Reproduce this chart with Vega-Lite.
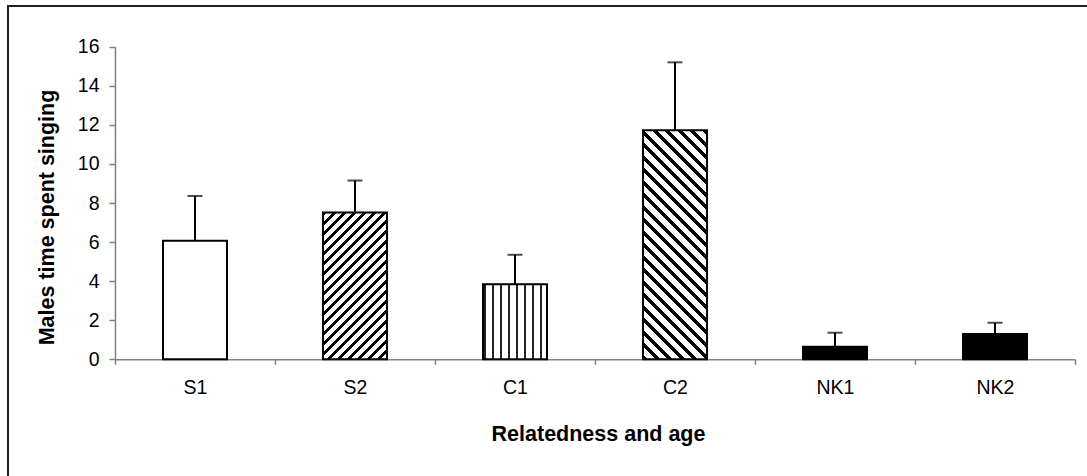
{
  "$schema": "https://vega.github.io/schema/vega-lite/v6.json",
  "autosize": {"type": "none"},
  "padding": {"left": 8, "top": 6, "right": 0, "bottom": 0},
  "width": 1081,
  "height": 471,
  "background": "white",
  "config": {
    "view": {"stroke": "#222", "strokeWidth": 2},
    "font": "Liberation Sans"
  },
  "data": {
    "values": [
      {"group": "S1", "mean": 6.07, "upper": 8.36},
      {"group": "S2", "mean": 7.52, "upper": 9.15},
      {"group": "C1", "mean": 3.84, "upper": 5.35},
      {"group": "C2", "mean": 11.72, "upper": 15.2},
      {"group": "NK1", "mean": 0.64, "upper": 1.36},
      {"group": "NK2", "mean": 1.29, "upper": 1.87}
    ]
  },
  "encoding": {
    "x": {
      "field": "group", "type": "nominal", "sort": null,
      "scale": {"type": "band", "domain": ["S1", "S2", "C1", "C2", "NK1", "NK2"], "range": [107, 1067], "paddingInner": 0, "paddingOuter": 0},
      "axis": {
        "title": "Relatedness and age",
        "offset": -117.7,
        "labelAngle": 0,
        "labelFont": "Liberation Sans", "labelFontSize": 19.5, "labelColor": "#000",
        "labelPadding": 14,
        "tickBand": "extent",
        "tickSize": 5, "tickColor": "#808080", "tickWidth": 1.5,
        "domainColor": "#808080", "domainWidth": 1.5,
        "titleFont": "Liberation Sans", "titleFontSize": 21.5, "titleFontWeight": "bold", "titleColor": "#000",
        "titleX": 590, "titleY": 80.7, "titleBaseline": "alphabetic", "titleAlign": "center",
        "grid": false
      }
    },
    "y": {
      "field": "mean", "type": "quantitative",
      "scale": {"domain": [0, 16], "range": [353.3, 40.7], "nice": false},
      "axis": {
        "title": "Males time spent singing",
        "offset": -107,
        "values": [0, 2, 4, 6, 8, 10, 12, 14, 16],
        "labelFont": "Liberation Sans", "labelFontSize": 19.5, "labelColor": "#000",
        "labelPadding": 10,
        "tickSize": 6, "tickColor": "#808080", "tickWidth": 1.5,
        "domainColor": "#808080", "domainWidth": 1.5,
        "titleFont": "Liberation Sans", "titleFontSize": 21.5, "titleFontWeight": "bold", "titleColor": "#000",
        "titleX": -61.7, "titleY": 211, "titleBaseline": "alphabetic", "titleAlign": "center", "titleAngle": 270,
        "grid": false
      }
    }
  },
  "layer": [
    {
      "transform": [{"filter": {"field": "group", "oneOf": ["S1", "NK1", "NK2"]}}],
      "mark": {"type": "bar", "width": {"band": 0.4}, "stroke": "#000", "strokeWidth": 2},
      "encoding": {
        "fill": {"field": "group", "type": "nominal", "scale": {"domain": ["S1", "NK1", "NK2"], "range": ["#ffffff", "#000000", "#000000"]}, "legend": null}
      }
    },
    {
      "transform": [{"filter": {"field": "group", "equal": "S2"}}],
      "mark": {
        "type": "bar", "width": {"band": 0.4}, "stroke": "#000", "strokeWidth": 2,
        "fill": {
          "gradient": "linear", "x1": 0, "y1": 0, "x2": 0.5254, "y2": 1.2067,
          "stops": [
            {"offset": 0, "color": "#000"}, {"offset": 0.019, "color": "#000"}, {"offset": 0.019, "color": "#fff"},
            {"offset": 0.0474, "color": "#fff"}, {"offset": 0.0474, "color": "#000"}, {"offset": 0.0664, "color": "#000"}, {"offset": 0.0664, "color": "#fff"},
            {"offset": 0.0948, "color": "#fff"}, {"offset": 0.0948, "color": "#000"}, {"offset": 0.1138, "color": "#000"}, {"offset": 0.1138, "color": "#fff"},
            {"offset": 0.1422, "color": "#fff"}, {"offset": 0.1422, "color": "#000"}, {"offset": 0.1612, "color": "#000"}, {"offset": 0.1612, "color": "#fff"},
            {"offset": 0.1896, "color": "#fff"}, {"offset": 0.1896, "color": "#000"}, {"offset": 0.2086, "color": "#000"}, {"offset": 0.2086, "color": "#fff"},
            {"offset": 0.2370, "color": "#fff"}, {"offset": 0.2370, "color": "#000"}, {"offset": 0.2560, "color": "#000"}, {"offset": 0.2560, "color": "#fff"},
            {"offset": 0.2844, "color": "#fff"}, {"offset": 0.2844, "color": "#000"}, {"offset": 0.3034, "color": "#000"}, {"offset": 0.3034, "color": "#fff"},
            {"offset": 0.3318, "color": "#fff"}, {"offset": 0.3318, "color": "#000"}, {"offset": 0.3508, "color": "#000"}, {"offset": 0.3508, "color": "#fff"},
            {"offset": 0.3791, "color": "#fff"}, {"offset": 0.3791, "color": "#000"}, {"offset": 0.3981, "color": "#000"}, {"offset": 0.3981, "color": "#fff"},
            {"offset": 0.4265, "color": "#fff"}, {"offset": 0.4265, "color": "#000"}, {"offset": 0.4455, "color": "#000"}, {"offset": 0.4455, "color": "#fff"},
            {"offset": 0.4739, "color": "#fff"}, {"offset": 0.4739, "color": "#000"}, {"offset": 0.4929, "color": "#000"}, {"offset": 0.4929, "color": "#fff"},
            {"offset": 0.5213, "color": "#fff"}, {"offset": 0.5213, "color": "#000"}, {"offset": 0.5403, "color": "#000"}, {"offset": 0.5403, "color": "#fff"},
            {"offset": 0.5687, "color": "#fff"}, {"offset": 0.5687, "color": "#000"}, {"offset": 0.5877, "color": "#000"}, {"offset": 0.5877, "color": "#fff"},
            {"offset": 0.6161, "color": "#fff"}, {"offset": 0.6161, "color": "#000"}, {"offset": 0.6351, "color": "#000"}, {"offset": 0.6351, "color": "#fff"},
            {"offset": 0.6635, "color": "#fff"}, {"offset": 0.6635, "color": "#000"}, {"offset": 0.6825, "color": "#000"}, {"offset": 0.6825, "color": "#fff"},
            {"offset": 0.7109, "color": "#fff"}, {"offset": 0.7109, "color": "#000"}, {"offset": 0.7299, "color": "#000"}, {"offset": 0.7299, "color": "#fff"},
            {"offset": 0.7583, "color": "#fff"}, {"offset": 0.7583, "color": "#000"}, {"offset": 0.7773, "color": "#000"}, {"offset": 0.7773, "color": "#fff"},
            {"offset": 0.8057, "color": "#fff"}, {"offset": 0.8057, "color": "#000"}, {"offset": 0.8247, "color": "#000"}, {"offset": 0.8247, "color": "#fff"},
            {"offset": 0.8531, "color": "#fff"}, {"offset": 0.8531, "color": "#000"}, {"offset": 0.8721, "color": "#000"}, {"offset": 0.8721, "color": "#fff"},
            {"offset": 0.9005, "color": "#fff"}, {"offset": 0.9005, "color": "#000"}, {"offset": 0.9195, "color": "#000"}, {"offset": 0.9195, "color": "#fff"},
            {"offset": 0.9479, "color": "#fff"}, {"offset": 0.9479, "color": "#000"}, {"offset": 0.9669, "color": "#000"}, {"offset": 0.9669, "color": "#fff"},
            {"offset": 0.9953, "color": "#fff"}, {"offset": 0.9953, "color": "#000"}, {"offset": 1, "color": "#000"}
          ]
        }
      }
    },
    {
      "transform": [{"filter": {"field": "group", "equal": "C1"}}],
      "mark": {
        "type": "bar", "width": {"band": 0.4}, "stroke": "#000", "strokeWidth": 2,
        "fill": {
          "gradient": "linear", "x1": 0, "y1": 0, "x2": 1, "y2": 0,
          "stops": [
            {"offset": 0, "color": "#fff"}, {"offset": 0.023, "color": "#fff"}, {"offset": 0.023, "color": "#222"}, {"offset": 0.053, "color": "#222"}, {"offset": 0.053, "color": "#fff"},
            {"offset": 0.148, "color": "#fff"}, {"offset": 0.148, "color": "#222"}, {"offset": 0.178, "color": "#222"}, {"offset": 0.178, "color": "#fff"},
            {"offset": 0.273, "color": "#fff"}, {"offset": 0.273, "color": "#222"}, {"offset": 0.303, "color": "#222"}, {"offset": 0.303, "color": "#fff"},
            {"offset": 0.398, "color": "#fff"}, {"offset": 0.398, "color": "#222"}, {"offset": 0.428, "color": "#222"}, {"offset": 0.428, "color": "#fff"},
            {"offset": 0.523, "color": "#fff"}, {"offset": 0.523, "color": "#222"}, {"offset": 0.553, "color": "#222"}, {"offset": 0.553, "color": "#fff"},
            {"offset": 0.648, "color": "#fff"}, {"offset": 0.648, "color": "#222"}, {"offset": 0.678, "color": "#222"}, {"offset": 0.678, "color": "#fff"},
            {"offset": 0.773, "color": "#fff"}, {"offset": 0.773, "color": "#222"}, {"offset": 0.803, "color": "#222"}, {"offset": 0.803, "color": "#fff"},
            {"offset": 0.898, "color": "#fff"}, {"offset": 0.898, "color": "#222"}, {"offset": 0.928, "color": "#222"}, {"offset": 0.928, "color": "#fff"},
            {"offset": 1, "color": "#fff"}
          ]
        }
      }
    },
    {
      "transform": [{"filter": {"field": "group", "equal": "C2"}}],
      "mark": {
        "type": "bar", "width": {"band": 0.4}, "stroke": "#000", "strokeWidth": 2,
        "fill": {
          "gradient": "linear", "x1": 0, "y1": 1, "x2": 0.3317, "y2": -0.1867,
          "stops": [
            {"offset": 0, "color": "#000"}, {"offset": 0.0171, "color": "#000"}, {"offset": 0.0171, "color": "#fff"},
            {"offset": 0.0427, "color": "#fff"}, {"offset": 0.0427, "color": "#000"}, {"offset": 0.0598, "color": "#000"}, {"offset": 0.0598, "color": "#fff"},
            {"offset": 0.0853, "color": "#fff"}, {"offset": 0.0853, "color": "#000"}, {"offset": 0.1024, "color": "#000"}, {"offset": 0.1024, "color": "#fff"},
            {"offset": 0.1280, "color": "#fff"}, {"offset": 0.1280, "color": "#000"}, {"offset": 0.1451, "color": "#000"}, {"offset": 0.1451, "color": "#fff"},
            {"offset": 0.1706, "color": "#fff"}, {"offset": 0.1706, "color": "#000"}, {"offset": 0.1877, "color": "#000"}, {"offset": 0.1877, "color": "#fff"},
            {"offset": 0.2133, "color": "#fff"}, {"offset": 0.2133, "color": "#000"}, {"offset": 0.2304, "color": "#000"}, {"offset": 0.2304, "color": "#fff"},
            {"offset": 0.2560, "color": "#fff"}, {"offset": 0.2560, "color": "#000"}, {"offset": 0.2731, "color": "#000"}, {"offset": 0.2731, "color": "#fff"},
            {"offset": 0.2986, "color": "#fff"}, {"offset": 0.2986, "color": "#000"}, {"offset": 0.3157, "color": "#000"}, {"offset": 0.3157, "color": "#fff"},
            {"offset": 0.3413, "color": "#fff"}, {"offset": 0.3413, "color": "#000"}, {"offset": 0.3584, "color": "#000"}, {"offset": 0.3584, "color": "#fff"},
            {"offset": 0.3839, "color": "#fff"}, {"offset": 0.3839, "color": "#000"}, {"offset": 0.4010, "color": "#000"}, {"offset": 0.4010, "color": "#fff"},
            {"offset": 0.4266, "color": "#fff"}, {"offset": 0.4266, "color": "#000"}, {"offset": 0.4437, "color": "#000"}, {"offset": 0.4437, "color": "#fff"},
            {"offset": 0.4693, "color": "#fff"}, {"offset": 0.4693, "color": "#000"}, {"offset": 0.4864, "color": "#000"}, {"offset": 0.4864, "color": "#fff"},
            {"offset": 0.5119, "color": "#fff"}, {"offset": 0.5119, "color": "#000"}, {"offset": 0.5290, "color": "#000"}, {"offset": 0.5290, "color": "#fff"},
            {"offset": 0.5546, "color": "#fff"}, {"offset": 0.5546, "color": "#000"}, {"offset": 0.5717, "color": "#000"}, {"offset": 0.5717, "color": "#fff"},
            {"offset": 0.5972, "color": "#fff"}, {"offset": 0.5972, "color": "#000"}, {"offset": 0.6143, "color": "#000"}, {"offset": 0.6143, "color": "#fff"},
            {"offset": 0.6399, "color": "#fff"}, {"offset": 0.6399, "color": "#000"}, {"offset": 0.6570, "color": "#000"}, {"offset": 0.6570, "color": "#fff"},
            {"offset": 0.6826, "color": "#fff"}, {"offset": 0.6826, "color": "#000"}, {"offset": 0.6997, "color": "#000"}, {"offset": 0.6997, "color": "#fff"},
            {"offset": 0.7252, "color": "#fff"}, {"offset": 0.7252, "color": "#000"}, {"offset": 0.7423, "color": "#000"}, {"offset": 0.7423, "color": "#fff"},
            {"offset": 0.7679, "color": "#fff"}, {"offset": 0.7679, "color": "#000"}, {"offset": 0.7850, "color": "#000"}, {"offset": 0.7850, "color": "#fff"},
            {"offset": 0.8105, "color": "#fff"}, {"offset": 0.8105, "color": "#000"}, {"offset": 0.8276, "color": "#000"}, {"offset": 0.8276, "color": "#fff"},
            {"offset": 0.8532, "color": "#fff"}, {"offset": 0.8532, "color": "#000"}, {"offset": 0.8703, "color": "#000"}, {"offset": 0.8703, "color": "#fff"},
            {"offset": 0.8959, "color": "#fff"}, {"offset": 0.8959, "color": "#000"}, {"offset": 0.9130, "color": "#000"}, {"offset": 0.9130, "color": "#fff"},
            {"offset": 0.9385, "color": "#fff"}, {"offset": 0.9385, "color": "#000"}, {"offset": 0.9556, "color": "#000"}, {"offset": 0.9556, "color": "#fff"},
            {"offset": 0.9812, "color": "#fff"}, {"offset": 0.9812, "color": "#000"}, {"offset": 0.9983, "color": "#000"}, {"offset": 0.9983, "color": "#fff"},
            {"offset": 1, "color": "#fff"}
          ]
        }
      }
    },
    {
      "mark": {"type": "rule", "color": "#000", "strokeWidth": 2},
      "encoding": {"y2": {"field": "upper"}}
    },
    {
      "mark": {"type": "tick", "color": "#000", "size": 15, "thickness": 2, "orient": "horizontal"},
      "encoding": {"y": {"field": "upper", "type": "quantitative"}}
    }
  ]
}
